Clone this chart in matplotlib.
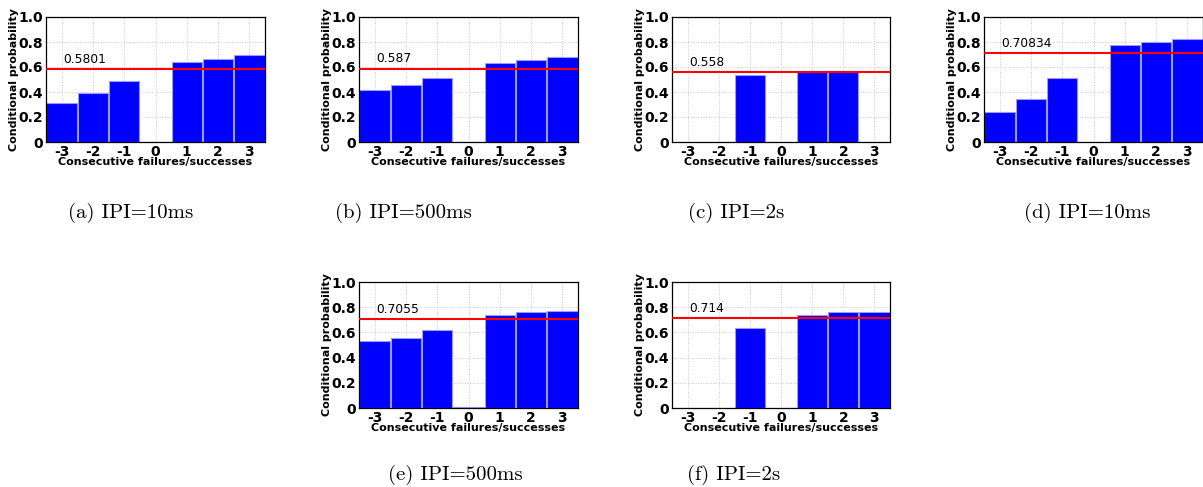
import numpy as np
import matplotlib
matplotlib.use('Agg')
import matplotlib.pyplot as plt

x = [-3, -2, -1, 0, 1, 2, 3]

# conditional probabilities
p_a = [0.314, 0.396, 0.489, 0.0, 0.638, 0.668, 0.694]
p_b = [0.415, 0.460, 0.516, 0.0, 0.630, 0.657, 0.681]
p_c = [0.0, 0.0, 0.540, 0.0, 0.561, 0.572, 0.0]
p_d = [0.242, 0.348, 0.516, 0.0, 0.779, 0.803, 0.824]
p_e = [0.529, 0.553, 0.617, 0.005, 0.739, 0.758, 0.769]
p_f = [0.0, 0.0, 0.638, 0.0, 0.742, 0.761, 0.761]

means = [0.5801, 0.587, 0.558, 0.70834, 0.7055, 0.714]
mean_labels = ['0.5801', '0.587', '0.558', '0.70834', '0.7055', '0.714']
captions = ['(a) IPI=10ms', '(b) IPI=500ms', '(c) IPI=2s',
            '(d) IPI=10ms', '(e) IPI=500ms', '(f) IPI=2s']
series = [p_a, p_b, p_c, p_d, p_e, p_f]

W, H = 1203, 487
fig = plt.figure(figsize=(W / 100, H / 100), dpi=100)

# axes boxes in pixels: left, right, top, bottom
boxes = [(46, 265, 17, 142), (359, 578, 17, 142), (672, 890, 17, 142),
         (984, 1203, 17, 142), (359, 578, 282, 408), (672, 890, 282, 408)]
cap_pos = [(131, 213), (403, 213), (736, 213), (1087, 213), (455, 475), (734, 475)]

for i in range(6):
    l, r, t, b = boxes[i]
    ax = fig.add_axes([l / W, 1 - b / H, (r - l) / W, (b - t) / H])
    ax.bar(x, series[i], width=0.97, color='#0000ff', edgecolor='#9a9aff', linewidth=0.8, zorder=2)
    ax.axhline(means[i], color='red', linewidth=1.5, zorder=3)
    ax.text(-2.95, means[i] + 0.05, mean_labels[i], fontsize=8.8, zorder=4)
    ax.set_xlim(-3.5, 3.5)
    ax.set_ylim(0, 1.0)
    ax.set_xticks(x)
    ax.set_xticklabels([str(v) for v in x])
    ax.set_yticks([0, 0.2, 0.4, 0.6, 0.8, 1.0])
    ax.set_yticklabels(['0', '0.2', '0.4', '0.6', '0.8', '1.0'])
    for lab in ax.get_xticklabels() + ax.get_yticklabels():
        lab.set_fontweight('bold')
        lab.set_fontsize(10)
    ax.tick_params(length=0, pad=2)
    ax.grid(True, linestyle=':', color='#c8c8c8', linewidth=0.7, zorder=0)
    ax.set_axisbelow(True)
    ax.set_ylabel('Conditional probability', fontsize=8, fontweight='bold', labelpad=0)
    ax.set_xlabel('Consecutive failures/successes', fontsize=8, fontweight='bold', labelpad=-1.5)
    for s in ax.spines.values():
        s.set_linewidth(0.9)
    cx, cy = cap_pos[i]
    fig.text(cx / W, 1 - cy / H, captions[i], fontsize=15, family='cmr10',
             ha='center', va='center')

fig.savefig('out.png', dpi=100)
